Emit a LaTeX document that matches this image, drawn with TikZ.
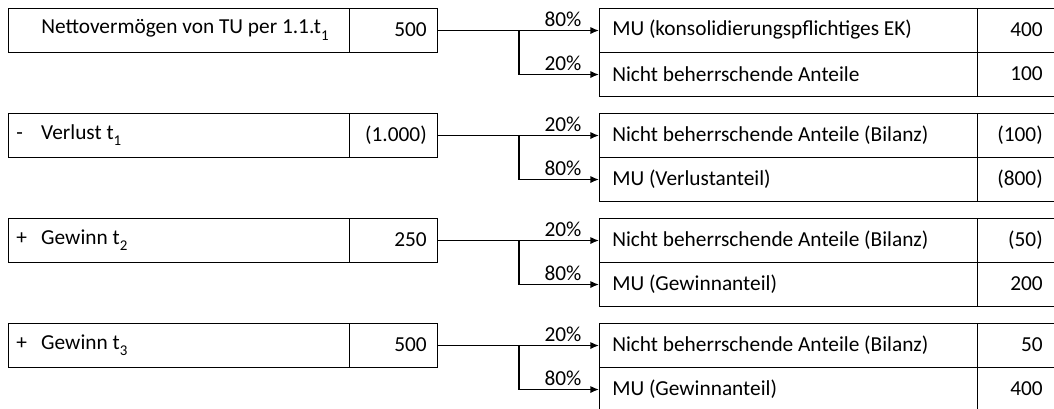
\documentclass[tikz,border=0pt]{standalone}
\usepackage{fontspec}
\setmainfont{Carlito}
\usetikzlibrary{arrows.meta}
\tikzset{
  box/.style={draw, line width=0.8pt, inner sep=0pt, anchor=north west, rectangle, minimum height=44*0.75pt},
  namebox/.style={box, minimum width=341*0.75pt},
  valbox/.style={box, minimum width=88*0.75pt},
  rbox/.style={box, minimum width=378*0.75pt},
  rvbox/.style={box, minimum width=95*0.75pt},
  txt/.style={inner sep=0pt, anchor=west},
  num/.style={inner sep=0pt, anchor=east},
  pct/.style={inner sep=0pt, anchor=south},
  conn/.style={line width=1.1pt, -{Latex[length=6.5pt,width=5.5pt]}},
}
\newcommand{\sgn}[1]{\makebox[18.75pt][l]{#1}}
\newcommand{\sub}[1]{\raisebox{-0.3ex}{\textsubscript{#1}}}
\begin{document}
\begin{tikzpicture}[x=0.75pt,y=-0.75pt,font=\fontsize{16}{18}\selectfont]
\useasboundingbox (0,0) rectangle (1054,408);
\clip (0,0) rectangle (1054,408);

% Row 1
\node[namebox] (n1) at (8,8) {};
\node[valbox] (v1) at (349,8) {};
\node[txt] (n1t) at (41,30) {Nettovermögen von TU per 1.1.t\sub{1}};
\node[num] (v1t) at (427,30) {500};
\node[rbox] (a1) at (599,8) {};
\node[rvbox] (b1) at (977,8) {};
\node[rbox] (c1) at (599,52) {};
\node[rvbox] (d1) at (977,52) {};
\node[txt] (a1t) at (612,30) {MU (konsolidierungspflichtiges EK)};
\node[num] (b1t) at (1043,30) {400};
\node[txt] (c1t) at (612,74) {Nicht beherrschende Anteile};
\node[num] (d1t) at (1043,74) {100};

% Row 2
\node[namebox] (n2) at (8,113) {};
\node[valbox] (v2) at (349,113) {};
\node[txt] (n2t) at (16,135) {\sgn{-}Verlust t\sub{1}};
\node[num] (v2t) at (427,135) {(1.000)};
\node[rbox] (a2) at (599,113) {};
\node[rvbox] (b2) at (977,113) {};
\node[rbox] (c2) at (599,157) {};
\node[rvbox] (d2) at (977,157) {};
\node[txt] (a2t) at (612,135) {Nicht beherrschende Anteile (Bilanz)};
\node[num] (b2t) at (1043,135) {(100)};
\node[txt] (c2t) at (612,179) {MU (Verlustanteil)};
\node[num] (d2t) at (1043,179) {(800)};

% Row 3
\node[namebox] (n3) at (8,218) {};
\node[valbox] (v3) at (349,218) {};
\node[txt] (n3t) at (16,240) {\sgn{+}Gewinn t\sub{2}};
\node[num] (v3t) at (427,240) {250};
\node[rbox] (a3) at (599,218) {};
\node[rvbox] (b3) at (977,218) {};
\node[rbox] (c3) at (599,262) {};
\node[rvbox] (d3) at (977,262) {};
\node[txt] (a3t) at (612,240) {Nicht beherrschende Anteile (Bilanz)};
\node[num] (b3t) at (1043,240) {(50)};
\node[txt] (c3t) at (612,284) {MU (Gewinnanteil)};
\node[num] (d3t) at (1043,284) {200};

% Row 4
\node[namebox] (n4) at (8,323) {};
\node[valbox] (v4) at (349,323) {};
\node[txt] (n4t) at (16,345) {\sgn{+}Gewinn t\sub{3}};
\node[num] (v4t) at (427,345) {500};
\node[rbox] (a4) at (599,323) {};
\node[rvbox] (b4) at (977,323) {};
\node[rbox] (c4) at (599,367) {};
\node[rvbox] (d4) at (977,367) {};
\node[txt] (a4t) at (612,345) {Nicht beherrschende Anteile (Bilanz)};
\node[num] (b4t) at (1043,345) {50};
\node[txt] (c4t) at (612,389) {MU (Gewinnanteil)};
\node[num] (d4t) at (1043,389) {400};

% Connectors and labels
\foreach \i/\top/\bot in {1/80\%/20\%, 2/20\%/80\%, 3/20\%/80\%, 4/20\%/80\%}{
  \path (v\i.east) ++(81,0) coordinate (j\i);
  \draw[conn] (v\i.east) -- (a\i.west);
  \draw[conn] (j\i) |- (c\i.west);
  \node[pct] (p\i) at ([xshift=-36*0.75pt,yshift=3pt]a\i.west) {\top};
  \node[pct] (q\i) at ([xshift=-36*0.75pt,yshift=3pt]c\i.west) {\bot};
}
\end{tikzpicture}
\end{document}
